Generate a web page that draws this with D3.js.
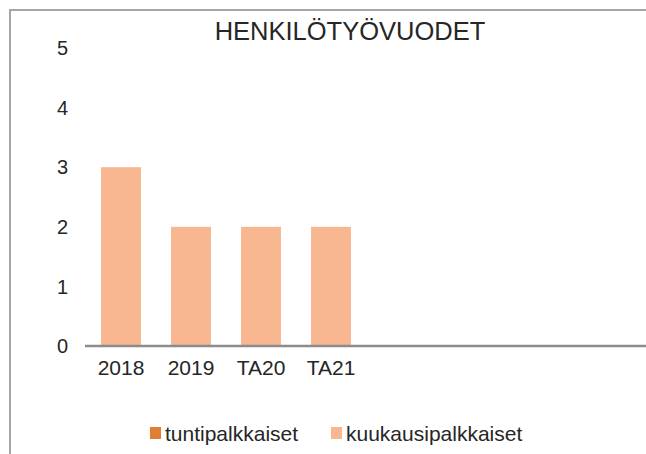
<!DOCTYPE html>
<style>
body { margin: 0; background: #fff; }
text { font-family: "Liberation Sans", Arial, sans-serif; fill: #262626; }
</style>
<svg width="646" height="454"></svg>
<script src="https://cdn.jsdelivr.net/npm/d3@7"></script>
<script>

// categories (last four slots are empty in the original chart)
var categories = ["2018", "2019", "TA20", "TA21", "", "", "", ""];
var tuntipalkkaiset = [0, 0, 0, 0, null, null, null, null];
var kuukausipalkkaiset = [3, 2, 2, 2, null, null, null, null];
var seriesNames = ["tuntipalkkaiset", "kuukausipalkkaiset"];
var yTicks = [0, 1, 2, 3, 4, 5];

var svg = d3.select("svg"),
    margin = {top: 48, right: 0, bottom: 108, left: 86},
    width = +svg.attr("width") - margin.left - margin.right,
    height = +svg.attr("height") - margin.top - margin.bottom;

// outer chart frame (cut off on right/bottom)
svg.append("rect")
    .attr("x", 10).attr("y", 10)
    .attr("width", 700).attr("height", 500)
    .attr("fill", "none")
    .attr("stroke", "#a6a6a6")
    .attr("stroke-width", 2);

var g = svg.append("g").attr("transform", "translate(" + margin.left + "," + margin.top + ")");

var x = d3.scaleBand()
    .domain(d3.range(categories.length))
    .range([0, width])
    .paddingInner(0.43)
    .paddingOuter(0.215);

var y = d3.scaleLinear()
    .domain([0, 5])
    .range([height, 0]);

var z = d3.scaleOrdinal()
    .domain(seriesNames)
    .range(["#e07f34", "#f8b790"]);

var rows = categories.map(function(c, i) {
  return {i: i, tuntipalkkaiset: tuntipalkkaiset[i] || 0, kuukausipalkkaiset: kuukausipalkkaiset[i] || 0};
});

var stacked = d3.stack().keys(seriesNames)(rows);

g.append("g")
  .selectAll("g")
  .data(stacked)
  .enter().append("g")
    .attr("fill", function(d) { return z(d.key); })
  .selectAll("rect")
  .data(function(d) { return d; })
  .enter().append("rect")
    .attr("x", function(d) { return x(d.data.i); })
    .attr("y", function(d) { return y(d[1]); })
    .attr("width", x.bandwidth())
    .attr("height", function(d) { return y(d[0]) - y(d[1]); });

// y axis labels only
g.append("g")
    .attr("font-size", 20)
  .selectAll("text")
  .data(yTicks)
  .enter().append("text")
    .attr("x", -18)
    .attr("y", function(d) { return y(d); })
    .attr("dy", "0.36em")
    .attr("text-anchor", "end")
    .text(function(d) { return d; });

var xAxis = g.append("g")
    .attr("transform", "translate(0," + height + ")")
    .call(d3.axisBottom(x).tickSize(0).tickPadding(14).tickFormat(function(i) { return categories[i]; }));
xAxis.select(".domain").attr("stroke", "#8c8c8c").attr("stroke-width", 2.5).attr("d", "M-1,0H" + (width + 1));
xAxis.selectAll("text")
    .attr("font-size", 21)
    .attr("fill", "#262626")
    .style("font-family", "'Liberation Sans', Arial, sans-serif");

svg.append("text")
    .attr("x", 350)
    .attr("y", 39.5)
    .attr("text-anchor", "middle")
    .attr("font-size", 25.5)
    .text("HENKILÖTYÖVUODET");

// legend
var legendX = [150, 331];
var legend = svg.append("g")
    .attr("font-size", 21)
  .selectAll("g")
  .data(seriesNames)
  .enter().append("g")
    .attr("transform", function(d, i) { return "translate(" + legendX[i] + ",427)"; });

legend.append("rect")
    .attr("width", 11)
    .attr("height", 12)
    .attr("fill", z);

legend.append("text")
    .attr("x", 15)
    .attr("y", 6)
    .attr("dy", "0.36em")
    .text(function(d) { return d; });

</script>
